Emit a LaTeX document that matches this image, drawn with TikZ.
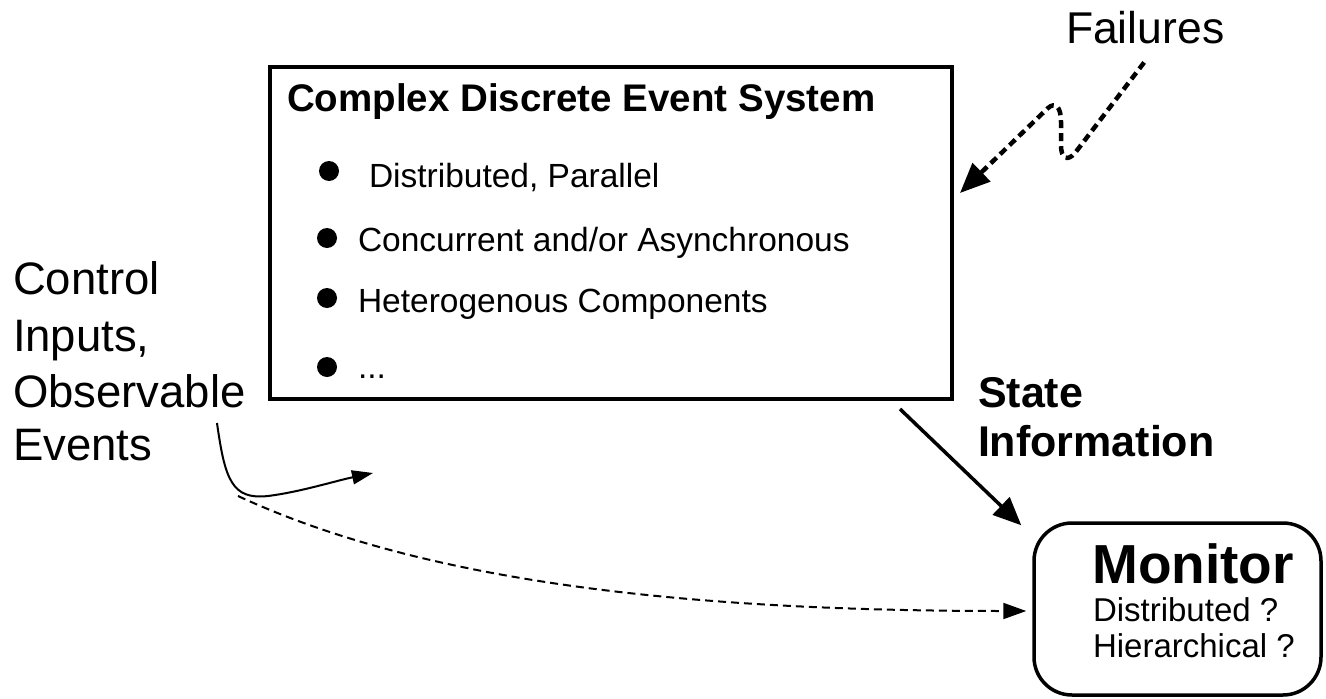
\documentclass[tikz,border=0pt]{standalone}
\usepackage{fontspec}
\setmainfont{Liberation Sans}
\usetikzlibrary{arrows.meta,calc}
\begin{document}
\begin{tikzpicture}[x=1pt,y=-1pt,
  txt/.style={inner sep=0pt,outer sep=0pt,anchor=base west},
  bigtxt/.style={txt,font=\fontsize{45.5}{54}\selectfont},
  bultxt/.style={txt,font=\fontsize{33.5}{40}\selectfont},
  bul/.style={circle,fill=black,minimum size=20pt,inner sep=0pt},
  failarrow/.style={line width=4.5pt,dash pattern=on 8pt off 5pt,-{Triangle[length=30pt,width=25pt]}},
  statearrow/.style={line width=3.5pt,-{Triangle[length=28pt,width=24pt]}},
  evarrow/.style={line width=2pt,-{Triangle[length=21pt,width=14pt]}},
  dasharrow/.style={line width=2pt,dash pattern=on 8pt off 5pt,-{Triangle[length=23pt,width=16pt]}}]
\useasboundingbox (0,0) rectangle (1326,699);
\fill[white] (0,0) rectangle (1326,699);

% main system box
\node[draw,line width=4pt,minimum width=682pt,minimum height=332pt,inner sep=0pt] (sys) at (611,233) {};
\node[txt,font=\fontsize{38.5}{46}\selectfont\bfseries] (title) at (287,111) {Complex Discrete Event System};
\node[bul] (d1) at (329,171) {};
\node[bul] (d2) at (327,238) {};
\node[bul] (d3) at (327,298) {};
\node[bul] (d4) at (327,367) {};
\node[bultxt] (b1) at (369,187) {Distributed, Parallel};
\node[bultxt] (b2) at (358,251) {Concurrent and/or Asynchronous};
\node[bultxt] (b3) at (358,312) {Heterogenous Components};
\node[bultxt] (b4) at (358,378) {...};

% left labels
\node[bigtxt] (l1) at (13,294) {Control};
\node[bigtxt] (l2) at (13,351) {Inputs,};
\node[bigtxt] (l3) at (13,407) {Observable};
\node[bigtxt] (l4) at (13,460) {Events};

% failures
\node[txt,font=\fontsize{44.5}{54}\selectfont] (fail) at (1066,43) {Failures};

% state information
\node[txt,font=\fontsize{43}{52}\selectfont\bfseries] (st1) at (978,407) {State};
\node[txt,font=\fontsize{43}{52}\selectfont\bfseries] (st2) at (978,456) {Information};

% monitor
\node[draw,line width=3.5pt,rounded corners=38pt,minimum width=287pt,minimum height=172pt,inner sep=0pt] (mon) at (1177.5,609) {};
\node[anchor=base,inner sep=0pt,font=\fontsize{55}{64}\selectfont\bfseries] (mt) at (1193,583) {Monitor};
\node[txt,font=\fontsize{33}{40}\selectfont] (m1) at (1093,621) {Distributed ?};
\node[txt,font=\fontsize{33}{40}\selectfont] (m2) at (1093,657) {Hierarchical ?};

% coordinates
\coordinate (fs) at ($(fail.south)+(-1,19)$);
\coordinate (ft) at (960,193);
\coordinate (ss) at ($(sys.south east)+(-54,8)$);
\coordinate (stip) at ($(mon.north west)+(-11,4)$);
\coordinate (ev0) at (217,423);
\coordinate (ev1) at (373,473);
\coordinate (ds) at (238,496);
\coordinate (md) at ($(mon.west)+(-6,2)$);

% connectors
\draw[failarrow] (fs) -- (1075,153) .. controls (1068,161) and (1061,160) .. (1061,145) -- (1061,122) .. controls (1061,106) and (1055,102) .. (1048,108) -- (ft);
\draw[statearrow] (ss) -- (stip);
\draw[evarrow] (ev0) .. controls (225,480) and (232,500) .. (268,496) .. controls (300,492) and (335,481) .. (ev1);
\draw[dasharrow] (ds) .. controls (430,585) and (700,611) .. (md);
\end{tikzpicture}
\end{document}
